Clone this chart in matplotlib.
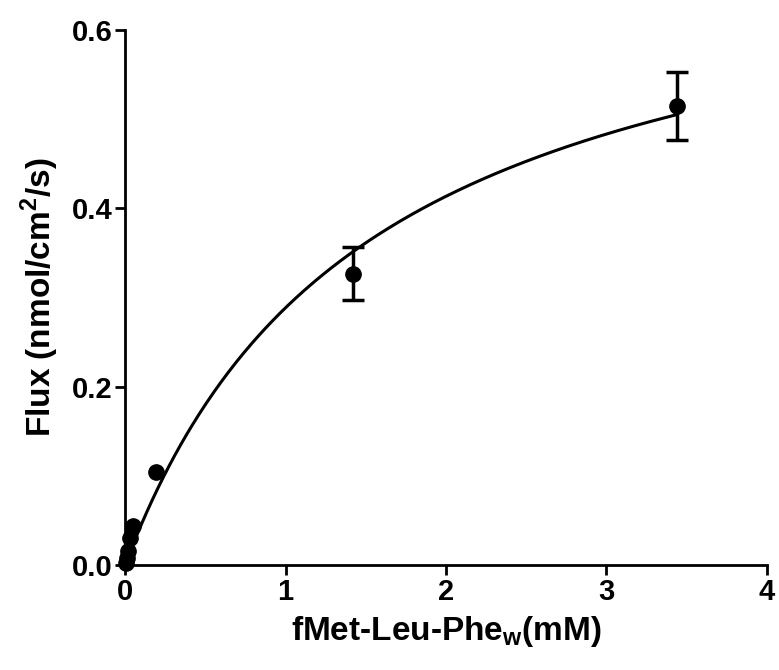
import numpy as np
import matplotlib.pyplot as plt

plt.rcParams['font.family'] = ['Liberation Sans', 'DejaVu Sans']
plt.rcParams['font.weight'] = 'bold'
plt.rcParams['mathtext.fontset'] = 'custom'
plt.rcParams['mathtext.bf'] = 'Liberation Sans:bold'
plt.rcParams['mathtext.rm'] = 'Liberation Sans:bold'

# Measured points (substrate conc in mM, flux in nmol/cm2/s)
conc = [0.003, 0.01, 0.02, 0.03, 0.05, 0.19, 1.42, 3.44]
flux = [0.002, 0.008, 0.016, 0.030, 0.044, 0.104, 0.327, 0.515]
err = [0, 0, 0, 0, 0, 0, 0.030, 0.038]

# Michaelis-Menten fit
vmax = 0.73
km = 1.53

fig = plt.figure(figsize=(7.79, 6.70), dpi=100)
ax = fig.add_axes([0.1605, 0.1567, 0.824, 0.7983])

xs = np.linspace(0, max(conc), 300)
ax.plot(xs, vmax * xs / (km + xs), color='black', lw=2.2)

ax.plot(conc, flux, 'o', color='black', ms=11, clip_on=False, zorder=3)
# error bars only where they were measured
ex = [c for c, e in zip(conc, err) if e > 0]
ey = [f for f, e in zip(flux, err) if e > 0]
ee = [e for e in err if e > 0]
ax.errorbar(ex, ey, yerr=ee, fmt='none', ecolor='black',
            elinewidth=2.5, capsize=8, capthick=2.5, zorder=3)

ax.set_xlim(0, 4)
ax.set_ylim(0, 0.6)
ax.set_xticks([0, 1, 2, 3, 4])
ax.set_yticks([0.0, 0.2, 0.4, 0.6])
ax.set_yticklabels(['0.0', '0.2', '0.4', '0.6'])

for s in ['top', 'right']:
    ax.spines[s].set_visible(False)
for s in ['left', 'bottom']:
    ax.spines[s].set_linewidth(2)
ax.tick_params(width=2, length=7, labelsize=21, pad=2)

ax.set_xlabel(r'fMet-Leu-Phe$_\mathbf{w}$(mM)', fontsize=24, fontweight='bold', labelpad=6)
ax.set_ylabel(r'Flux (nmol/cm$^\mathbf{2}$/s)', fontsize=24, fontweight='bold', labelpad=8)

fig.savefig('out.png', dpi=100)
